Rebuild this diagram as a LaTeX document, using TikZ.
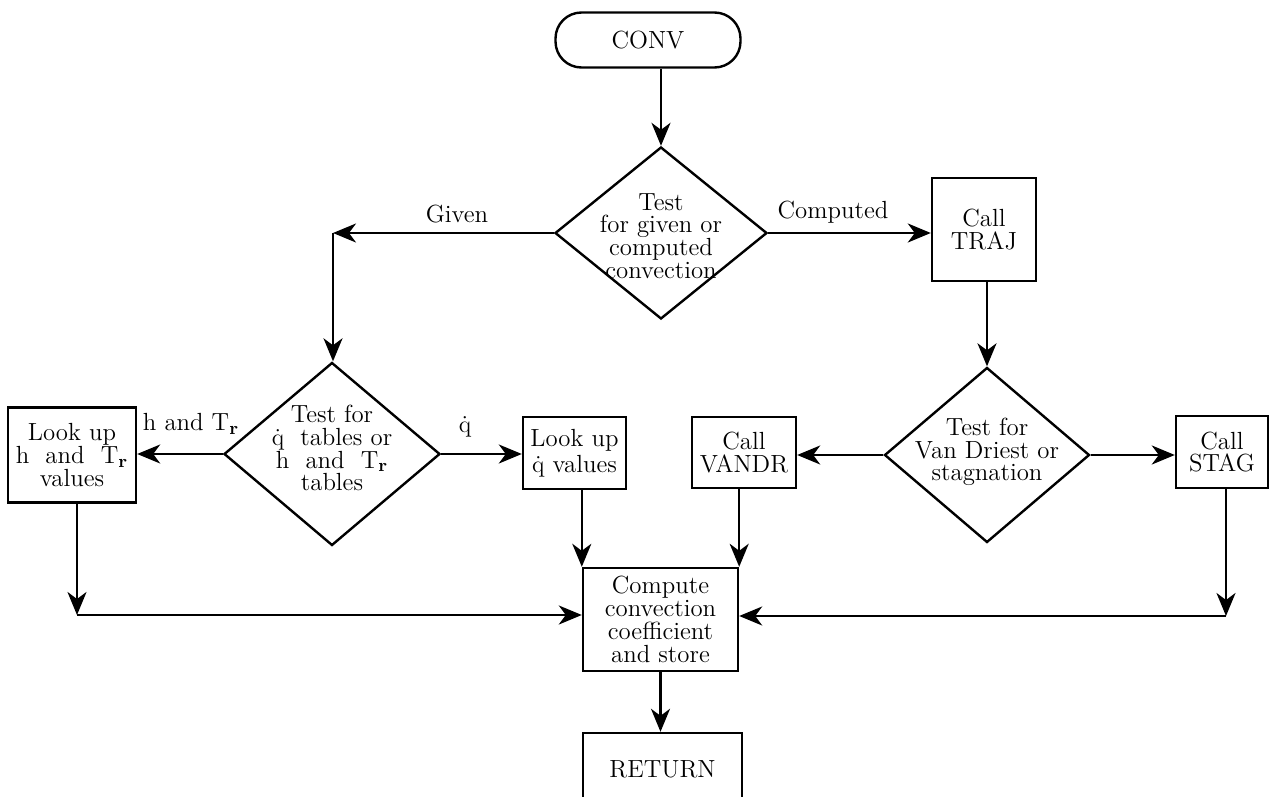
\documentclass[tikz,border=0pt]{standalone}
\usetikzlibrary{shapes.geometric,arrows.meta}
\begin{document}
\begin{tikzpicture}[x=0.5pt,y=-0.5pt,
  every node/.style={font=\fontsize{12.4}{11.4}\selectfont, align=center, inner sep=0pt},
  ln/.style={line width=1.2pt},
  arr/.style={ln, -{Stealth[length=11.5pt,width=9.5pt,inset=3.5pt]}},
  box/.style={draw, ln, rectangle},
  dia/.style={draw, ln, diamond},
  lbl/.style={}]
\clip (0,0) rectangle (1270,797);
% nodes
\node[box, rounded corners=13pt, minimum width=92.5pt, minimum height=27.5pt] (conv) at (648,40) {CONV};
\node[dia, minimum width=106pt, minimum height=86pt] (d1) at (661,233) {};
\node (d1t) at (661,236) {Test\\for given or\\computed\\convection};
\node[box, minimum width=52pt, minimum height=51.5pt] (traj) at (984,229.5) {Call\\TRAJ};
\node[dia, minimum width=108pt, minimum height=91.5pt] (d2) at (332,454) {};
\node (d2t) at (332,448) {Test for\\$\dot{\mathrm{q}}$~~tables or\\h~~and~~T$_{\mathbf{r}}$\\tables};
\node[box, minimum width=64pt, minimum height=47.5pt] (box1) at (72,455) {Look up\\h~~and~~T$_{\mathbf{r}}$\\values};
\node[box, minimum width=51.5pt, minimum height=36pt] (box2) at (574.5,453) {Look up\\[1.5pt]$\dot{\mathrm{q}}$~values};
\node[box, minimum width=52pt, minimum height=35.5pt] (vandr) at (744,452.5) {Call\\VANDR};
\node[dia, minimum width=102.5pt, minimum height=87.5pt] (d4) at (987,455) {};
\node (d4t) at (987,452) {Test for\\Van Driest or\\stagnation};
\node[box, minimum width=46pt, minimum height=36pt] (stag) at (1222,452) {Call\\STAG};
\node[box, minimum width=77.5pt, minimum height=51.5pt] (comp) at (660.5,619.5) {Compute\\convection\\coefficient\\and store};
\node[box, minimum width=79.5pt, minimum height=36pt] (ret) at (662.5,769) {RETURN};
% labels
\node[lbl] (lgiven) at (457,214) {Given};
\node[lbl] (lcomp) at (833,212) {Computed};
\node[lbl] (lhtr) at (191,424) {h and T$_{\mathbf{r}}$};
\node[lbl] (lq) at (465,427) {$\dot{\mathrm{q}}$};
% corner coordinates
\coordinate (cg) at (333,233);
\coordinate (cl) at (77,615);
\coordinate (cr) at (1226,616);
% connectors
\draw[arr] (conv.south -| d1.north) -- (d1.north);
\draw[arr] (d1.west) -- (cg);
\draw[arr] (cg) -- (cg |- d2.north);
\draw[arr] (d1.east) -- (d1.east -| traj.west);
\draw[arr] (traj.south -| d4.north) -- (d4.north);
\draw[arr] (d2.west) -- (d2.west -| box1.east);
\draw[arr] (d2.east) -- (d2.east -| box2.west);
\draw[arr] (d4.west) -- (d4.west -| vandr.east);
\draw[arr] (d4.east) -- (d4.east -| stag.west);
\draw[arr] (box2.south -| comp.north west) -- (comp.north west);
\draw[arr] (vandr.south -| comp.north east) -- (comp.north east);
\draw[arr] (cl |- box1.south) -- (cl);
\draw[arr] (cl) -- (cl -| comp.west);
\draw[arr] (cr |- stag.south) -- (cr);
\draw[arr] (cr) -- (cr -| comp.east);
\draw[arr] (comp.south) -- (comp.south |- ret.north);
\end{tikzpicture}
\end{document}
